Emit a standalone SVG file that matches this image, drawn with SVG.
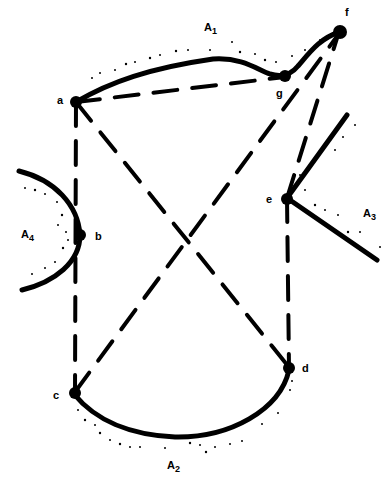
<svg xmlns="http://www.w3.org/2000/svg" width="391" height="481" viewBox="0 0 391 481">
<style>
.curve{fill:none;stroke:#000;stroke-width:5;stroke-linecap:round;stroke-linejoin:round}
.dash{fill:none;stroke:#000;stroke-width:4;stroke-dasharray:24 15;stroke-linecap:round}
.node{fill:#000}
.lbl{font-family:"Liberation Sans",Arial,sans-serif;font-weight:bold;font-size:11px;fill:#000}
.sub{font-size:9px}
.dots circle{fill:#000}
</style>
<rect width="391" height="481" fill="#fff"/>
<g id="connectors">
<path id="A1" class="curve" d="M76,102 C110,82 150,68 213,59 C243,57 258,70 270,74 C280,77 290,76 298,66 C310,52 320,38 340,32"/>
<path id="A4" class="curve" d="M19,171 C55,180 78,205 80,235 C80,262 55,282 22,290"/>
<path id="A3" class="curve" d="M347,115 L287,198 L377,260"/>
<path id="A2" class="curve" d="M74,394 C95,420 130,435 175,437 C230,438 280,410 289,370"/>
<line class="dash" x1="76" y1="102" x2="285" y2="77"/>
<line class="dash" x1="76" y1="102" x2="75" y2="392"/>
<line class="dash" x1="76" y1="102" x2="288" y2="366"/>
<line class="dash" x1="75" y1="392" x2="338" y2="35"/>
<line class="dash" x1="287" y1="198" x2="338" y2="35"/>
<line class="dash" x1="287" y1="198" x2="289" y2="368"/>
</g>
<g class="dots">
<circle cx="100" cy="73" r="1"/><circle cx="126" cy="64" r="1.2"/><circle cx="135" cy="62" r="1"/><circle cx="150" cy="58" r="1.2"/><circle cx="160" cy="55" r="1"/><circle cx="176" cy="51" r="1.2"/><circle cx="188" cy="50" r="1"/><circle cx="210" cy="50" r="1"/><circle cx="232" cy="42" r="1"/><circle cx="240" cy="52" r="1.2"/><circle cx="255" cy="54" r="1"/><circle cx="265" cy="60" r="1.2"/><circle cx="276" cy="62" r="1"/><circle cx="292" cy="56" r="1"/><circle cx="305" cy="50" r="1"/><circle cx="320" cy="40" r="1"/><circle cx="115" cy="70" r="1"/><circle cx="92" cy="78" r="1"/><circle cx="355" cy="125" r="1"/><circle cx="343" cy="137" r="1"/><circle cx="335" cy="150" r="1"/>
<circle cx="25" cy="188" r="1"/><circle cx="35" cy="190" r="1.2"/><circle cx="45" cy="194" r="1"/><circle cx="57" cy="202" r="1"/><circle cx="62" cy="215" r="1.2"/><circle cx="66" cy="232" r="1"/><circle cx="63" cy="248" r="1.2"/><circle cx="55" cy="262" r="1"/><circle cx="45" cy="268" r="1"/><circle cx="32" cy="274" r="1"/><circle cx="68" cy="240" r="1"/><circle cx="58" cy="225" r="1"/>
<circle cx="305" cy="190" r="1"/><circle cx="315" cy="205" r="1.2"/><circle cx="325" cy="210" r="1"/><circle cx="338" cy="215" r="1"/><circle cx="348" cy="232" r="1.2"/><circle cx="360" cy="232" r="1"/><circle cx="380" cy="247" r="1"/><circle cx="300" cy="175" r="1"/>
<circle cx="78" cy="410" r="1"/><circle cx="85" cy="420" r="1.2"/><circle cx="95" cy="425" r="1"/><circle cx="100" cy="433" r="1.2"/><circle cx="110" cy="440" r="1"/><circle cx="120" cy="444" r="1.2"/><circle cx="130" cy="447" r="1"/><circle cx="140" cy="447" r="1"/><circle cx="165" cy="448" r="1"/><circle cx="190" cy="443" r="1.2"/><circle cx="200" cy="445" r="1"/><circle cx="206" cy="452" r="1.2"/><circle cx="215" cy="447" r="1"/><circle cx="230" cy="444" r="1"/><circle cx="242" cy="441" r="1"/><circle cx="262" cy="424" r="1"/><circle cx="278" cy="413" r="1"/><circle cx="290" cy="390" r="1"/><circle cx="292" cy="381" r="1"/>
</g>
<g id="a"><circle class="node" cx="76" cy="102" r="6"/><text class="lbl" x="57" y="104">a</text></g>
<g id="g"><circle class="node" cx="285" cy="76" r="6"/><text class="lbl" x="276" y="97">g</text></g>
<g id="f"><circle class="node" cx="340" cy="32" r="7"/><text class="lbl" x="345" y="16">f</text></g>
<g id="b"><circle class="node" cx="80" cy="235" r="6"/><text class="lbl" x="95" y="240">b</text></g>
<g id="e"><circle class="node" cx="287" cy="199" r="6"/><text class="lbl" x="266" y="203">e</text></g>
<g id="c"><circle class="node" cx="75" cy="393" r="6"/><text class="lbl" x="53" y="399">c</text></g>
<g id="d"><circle class="node" cx="289" cy="368" r="6"/><text class="lbl" x="302" y="372">d</text></g>
<g id="labels">
<text class="lbl" x="204" y="31">A<tspan class="sub" dy="3">1</tspan></text>
<text class="lbl" x="21" y="238">A<tspan class="sub" dy="3">4</tspan></text>
<text class="lbl" x="363" y="217">A<tspan class="sub" dy="3">3</tspan></text>
<text class="lbl" x="167" y="469">A<tspan class="sub" dy="3">2</tspan></text>
</g>
</svg>
